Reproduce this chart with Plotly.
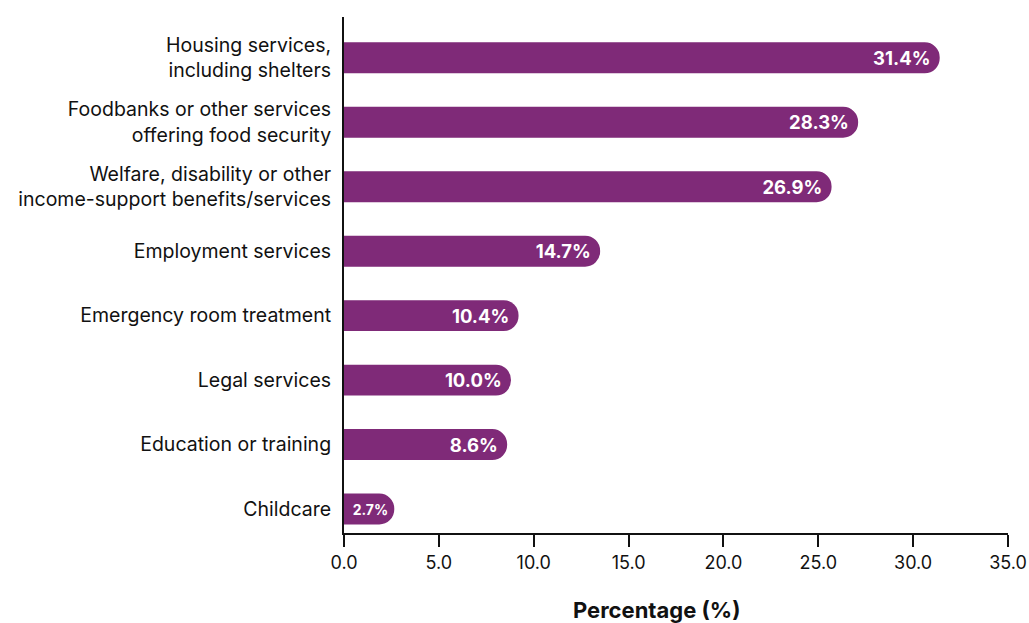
import plotly.graph_objects as go

categories = [
    "Housing services,<br>including shelters",
    "Foodbanks or other services<br>offering food security",
    "Welfare, disability or other<br>income-support benefits/services",
    "Employment services",
    "Emergency room treatment",
    "Legal services",
    "Education or training",
    "Childcare",
]
# bar lengths as drawn in the picture
bar_lengths = [31.4, 27.1, 25.7, 13.5, 9.2, 8.8, 8.6, 2.65]
# printed value labels
value_labels = ["31.4%", "28.3%", "26.9%", "14.7%", "10.4%", "10.0%", "8.6%", "2.7%"]
label_sizes = [18.5, 18.5, 18.5, 18.5, 18.5, 18.5, 18.5, 14]
tick_vals = [0, 5, 10, 15, 20, 25, 30, 35]

PURPLE = "#7f2a78"
FONT = "Inter, Roboto, sans-serif"

fig = go.Figure(
    go.Bar(
        x=bar_lengths,
        y=categories,
        orientation="h",
        marker=dict(color=PURPLE, line=dict(width=0)),
        text=value_labels,
        textposition="inside",
        insidetextanchor="end",
        textfont=dict(color="white", family=FONT, size=label_sizes, weight="bold"),
        width=0.48,
        hoverinfo="skip",
    )
)

fig.update_layout(
    width=1029,
    height=623,
    margin=dict(l=344, r=21, t=17, b=90, autoexpand=False),
    paper_bgcolor="white",
    plot_bgcolor="white",
    barcornerradius=15,
    showlegend=False,
    font=dict(family=FONT, size=17, color="#111111"),
    xaxis=dict(
        range=[0, 35],
        tickvals=tick_vals,
        tickformat=".1f",
        showgrid=False,
        zeroline=False,
        showline=True,
        linecolor="#111111",
        linewidth=2,
        ticks="outside",
        ticklen=12,
        tickwidth=2,
        tickcolor="#111111",
        tickfont=dict(size=18),
        automargin=False,
    ),
    yaxis=dict(
        range=[7.372, -0.633],
        showgrid=False,
        zeroline=False,
        showline=True,
        linecolor="#111111",
        linewidth=2,
        ticks="",
        ticklabelstandoff=7,
        tickfont=dict(size=19.5),
        automargin=False,
    ),
    annotations=[
        dict(
            text="<b>Percentage (%)</b>",
            xref="paper",
            yref="paper",
            x=0.47,
            y=0,
            yshift=-77,
            xanchor="center",
            yanchor="middle",
            showarrow=False,
            font=dict(size=22, family=FONT, color="#111111"),
        )
    ],
)

fig.write_html(
    "out.html",
    config={"displayModeBar": False},
    post_script="document.body.style.margin='0';document.body.style.overflow='hidden';",
)
